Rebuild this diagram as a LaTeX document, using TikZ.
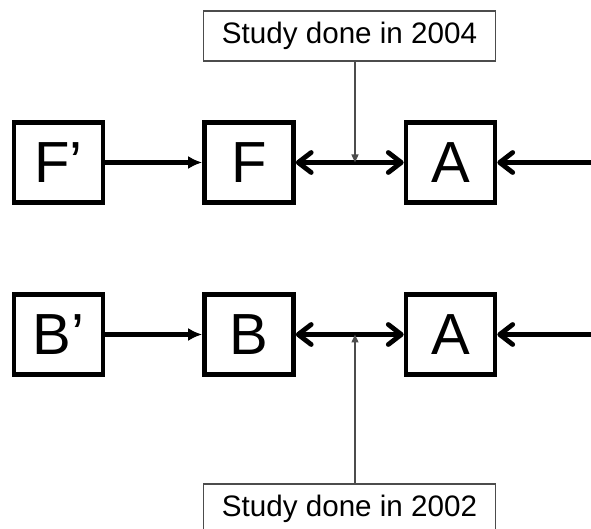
\documentclass[tikz,border=0pt]{standalone}
\usepackage{fontspec}
\setmainfont{Liberation Sans}
\usetikzlibrary{arrows.meta}

\begin{document}
\begin{tikzpicture}[x=0.5pt,y=-0.5pt,
  box/.style={draw,line width=2.3pt,minimum width=44.5pt,minimum height=40pt,inner sep=0pt,font=\fontsize{29}{32}\selectfont},
  note/.style={draw=black!70,line width=0.65pt,minimum width=146pt,minimum height=25pt,inner sep=0pt,font=\fontsize{14.8}{17}\selectfont},
  link/.style={line width=2.4pt},
  barb/.tip={Straight Barb[round,length=6.5pt,width=10pt]},
  pin/.style={draw=black!70,line width=0.65pt,-{Triangle[length=4pt,width=3.5pt]}}]
\clip (0,0) rectangle (591,529);
\useasboundingbox (0,0) rectangle (591,529);
% first row
\node[box] (Fp) at (58.5,162.5) {F'};
\node[box] (F) at (249,162.5) {F};
\node[box] (A1) at (450.5,162.5) {A};
\coordinate (in1) at (600,162.5);
\node[note] (s2004) at (349.5,36) {Study done in 2004};
\coordinate (p2004) at (355,162.5);
% second row
\node[box] (Bp) at (58.5,334.5) {B'};
\node[box] (B) at (249,334.5) {B};
\node[box] (A2) at (450.5,334.5) {A};
\coordinate (in2) at (600,334.5);
\node[note] (s2002) at (349.5,509) {Study done in 2002};
\coordinate (p2002) at (355,334.5);

\draw[link,-{Latex[length=7pt,width=6.5pt]}] (Fp) -- (F);
\draw[link,barb-barb] (F) -- (A1);
\draw[link,-barb] (in1) -- (A1);
\draw[pin] (s2004.south -| p2004) -- (p2004);

\draw[link,-{Latex[length=7pt,width=6.5pt]}] (Bp) -- (B);
\draw[link,barb-barb] (B) -- (A2);
\draw[link,-barb] (in2) -- (A2);
\draw[pin] (s2002.north -| p2002) -- (p2002);
\end{tikzpicture}
\end{document}
